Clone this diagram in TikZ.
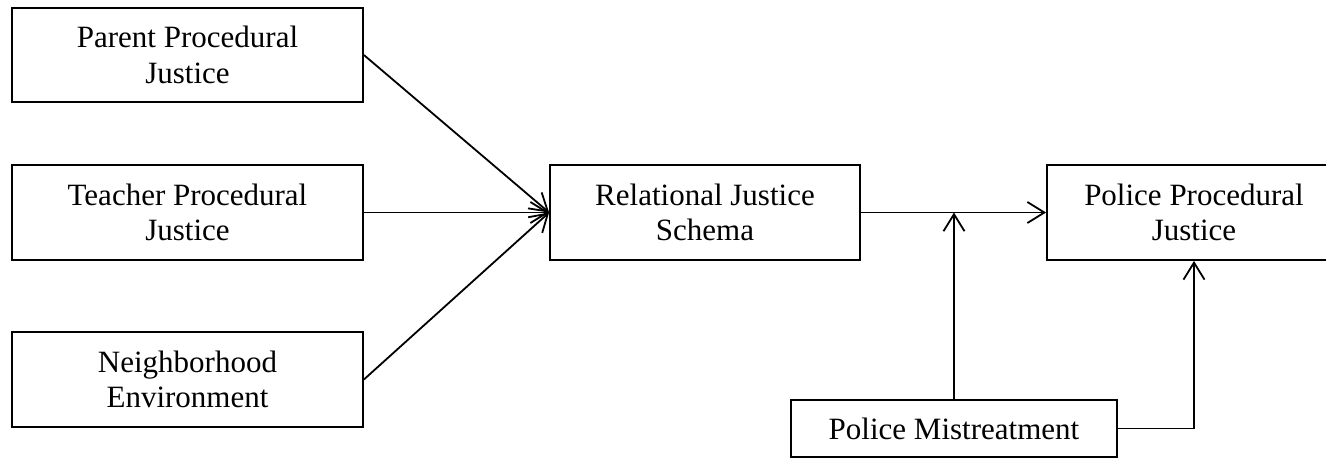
\documentclass[tikz,border=0pt]{standalone}
\usepackage{fontspec}
\setmainfont{Liberation Serif}
\usetikzlibrary{arrows.meta}
\begin{document}
\begin{tikzpicture}[x=1pt,y=-1pt,
  box/.style={draw,line width=1.8pt,align=center,inner sep=0pt,
    font=\fontsize{31}{35.5}\selectfont},
  conn/.style={line width=1.8pt,-{Straight Barb[length=17pt,width=21pt]}}]
\useasboundingbox (0,0) rectangle (1326,459);
\clip (0,0) rectangle (1326,459);
\fill[white] (0,0) rectangle (1326,459);
\node[box,minimum width=351pt,minimum height=94pt] (par) at (187.5,55) {Parent Procedural\\Justice};
\node[box,minimum width=351pt,minimum height=95pt] (tea) at (187.5,212.5) {Teacher Procedural\\Justice};
\node[box,minimum width=351pt,minimum height=95pt] (nei) at (187.5,379.5) {Neighborhood\\Environment};
\node[box,minimum width=310pt,minimum height=95pt] (rel) at (705,212.5) {Relational Justice\\Schema};
\node[box,minimum width=294pt,minimum height=95pt] (ppj) at (1194,212.5) {Police Procedural\\Justice};
\node[box,minimum width=326pt,minimum height=57pt] (mis) at (954,428.5) {\raisebox{-3pt}{Police Mistreatment}};
\draw[conn] (par.east) -- (rel.west);
\draw[conn] (tea.east) -- (rel.west);
\draw[conn] (nei.east) -- (rel.west);
\draw[conn] (rel.east) -- (ppj.west);
\coordinate (meet) at (mis.north |- rel.east);
\draw[conn] (mis.north) -- (meet);
\draw[conn] (mis.east) -| (ppj.south);
\end{tikzpicture}
\end{document}
